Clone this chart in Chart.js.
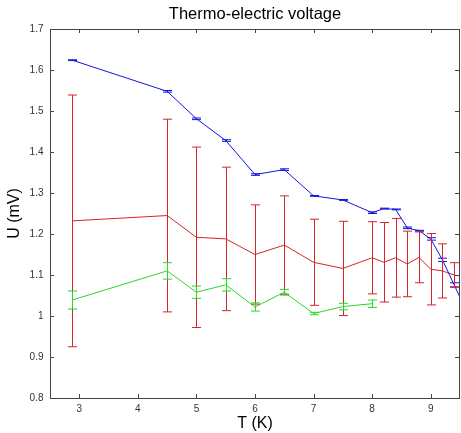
<!DOCTYPE html>
<html>
<head>
<meta charset="utf-8">
<script src="https://cdn.jsdelivr.net/npm/chart.js@4.4.0/dist/chart.umd.min.js"></script>
<style>
  html, body { margin: 0; padding: 0; background: #fff; }
  #wrap { width: 461px; height: 433px; }
</style>
</head>
<body>
<div id="wrap"><canvas id="chart-thermo"></canvas></div>
<script>
// temperatures (K) of the measurements
const temps = [2.88, 4.5, 5, 5.5, 6, 6.5, 7, 7.5, 8, 8.2, 8.4, 8.6, 8.8, 9, 9.2, 9.4];

// blue series (one extra point past the right edge, clipped)
const blueT = temps.concat([9.6]);
const blueU = [1.624, 1.548, 1.481, 1.428, 1.345, 1.357, 1.293, 1.283, 1.252, 1.262, 1.260, 1.215, 1.208, 1.188, 1.137, 1.076, 1.015];
const blueErr = [0.001, 0.002, 0.002, 0.002, 0.002, 0.002, 0.001, 0.001, 0.002, 0.001, 0.001, 0.002, 0.001, 0.003, 0.004, 0.005, 0.005];

// red series
const redT = temps;
const redU = [1.232, 1.245, 1.192, 1.188, 1.150, 1.173, 1.131, 1.116, 1.142, 1.131, 1.142, 1.127, 1.143, 1.114, 1.110, 1.100];
const redErr = [0.307, 0.235, 0.220, 0.175, 0.121, 0.120, 0.105, 0.115, 0.088, 0.097, 0.096, 0.080, 0.062, 0.087, 0.066, 0.030];

// green series (stops at 8 K)
const greenT = temps.slice(0, 9);
const greenU = [1.039, 1.110, 1.058, 1.076, 1.022, 1.058, 1.006, 1.023, 1.030];
const greenErr = [0.022, 0.020, 0.015, 0.015, 0.010, 0.007, 0.003, 0.008, 0.009];

const xTicks = [3, 4, 5, 6, 7, 8, 9];

function points(xs, ys) {
  return xs.map((x, i) => ({ x: x, y: ys[i] }));
}

const FONT = 'Liberation Sans, Arial, sans-serif';

// error bars + matlab style box with inward ticks
const errorBarPlugin = {
  id: 'errorBars',
  afterDatasetsDraw(chart) {
    const ctx = chart.ctx;
    const xs = chart.scales.x, ys = chart.scales.y;
    const area = chart.chartArea;
    ctx.save();
    ctx.beginPath();
    ctx.rect(area.left, area.top, area.right - area.left + 1, area.bottom - area.top);
    ctx.clip();
    chart.data.datasets.forEach(ds => {
      ctx.strokeStyle = ds.borderColor;
      ctx.lineWidth = 1;
      ds.data.forEach((p, i) => {
        const e = ds.errors[i];
        const px = Math.round(xs.getPixelForValue(p.x)) + 0.5;
        const top = ys.getPixelForValue(p.y + e);
        const bot = ys.getPixelForValue(p.y - e);
        const w = 4.5;
        ctx.beginPath();
        ctx.moveTo(px, top); ctx.lineTo(px, bot);
        ctx.moveTo(px - w, top); ctx.lineTo(px + w, top);
        ctx.moveTo(px - w, bot); ctx.lineTo(px + w, bot);
        ctx.stroke();
      });
    });
    ctx.restore();
  },
  afterDraw(chart) {
    const ctx = chart.ctx;
    const a = chart.chartArea;
    const xs = chart.scales.x, ys = chart.scales.y;
    ctx.save();
    ctx.strokeStyle = '#444';
    ctx.lineWidth = 1;
    ctx.strokeRect(Math.round(a.left) + 0.5, Math.round(a.top) + 0.5,
                   Math.round(a.right - a.left) - 1, Math.round(a.bottom - a.top));
    ctx.beginPath();
    xs.ticks.forEach(t => {
      const px = Math.round(xs.getPixelForValue(t.value)) + 0.5;
      ctx.moveTo(px, a.bottom); ctx.lineTo(px, a.bottom - 4);
      ctx.moveTo(px, a.top); ctx.lineTo(px, a.top + 4);
    });
    ys.ticks.forEach(t => {
      const py = Math.round(ys.getPixelForValue(t.value)) + 0.5;
      ctx.moveTo(a.left, py); ctx.lineTo(a.left + 4, py);
      ctx.moveTo(a.right - 1, py); ctx.lineTo(a.right - 5, py);
    });
    ctx.stroke();
    ctx.restore();
  }
};

const ctx = document.getElementById('chart-thermo').getContext('2d');

new Chart(ctx, {
  type: 'line',
  data: {
    datasets: [
      { data: points(blueT, blueU), errors: blueErr, borderColor: 'rgb(20,20,225)', borderWidth: 1 },
      { data: points(redT, redU), errors: redErr, borderColor: 'rgb(215,35,40)', borderWidth: 1 },
      { data: points(greenT, greenU), errors: greenErr, borderColor: 'rgb(40,215,40)', borderWidth: 1 }
    ]
  },
  options: {
    responsive: true,
    maintainAspectRatio: false,
    animation: false,
    layout: { padding: { left: 0, right: 1, top: 0, bottom: 0 } },
    elements: { point: { radius: 0 }, line: { tension: 0 } },
    plugins: {
      legend: { display: false },
      tooltip: { enabled: false },
      title: {
        display: true,
        text: 'Thermo-electric voltage',
        fullSize: false,
        color: '#000',
        font: { family: FONT, size: 16.5, weight: 'normal' },
        padding: { top: 5, bottom: 4.2 }
      }
    },
    scales: {
      x: {
        type: 'linear',
        min: 2.5,
        max: 9.5,
        afterBuildTicks: s => { s.ticks = xTicks.map(v => ({ value: v })); },
        afterFit: s => { s.height = 35; },
        grid: { display: false, drawTicks: false },
        border: { display: false },
        ticks: {
          padding: 5,
          color: '#333',
          font: { family: FONT, size: 10 },
          callback: v => String(v)
        },
        title: {
          display: true,
          text: 'T (K)',
          color: '#000',
          font: { family: FONT, size: 16 },
          padding: { top: 0, bottom: 0 }
        }
      },
      y: {
        min: 0.8,
        max: 1.7,
        afterFit: s => { s.width = 50; },
        grid: { display: false, drawTicks: false },
        border: { display: false },
        ticks: {
          stepSize: 0.1,
          padding: 6.5,
          color: '#333',
          font: { family: FONT, size: 10 },
          callback: v => String(Math.round(v * 10) / 10)
        },
        title: {
          display: true,
          text: 'U (mV)',
          color: '#000',
          font: { family: FONT, size: 16 },
          padding: { top: 5.4, bottom: 0 }
        }
      }
    }
  },
  plugins: [errorBarPlugin]
});
</script>
</body>
</html>
